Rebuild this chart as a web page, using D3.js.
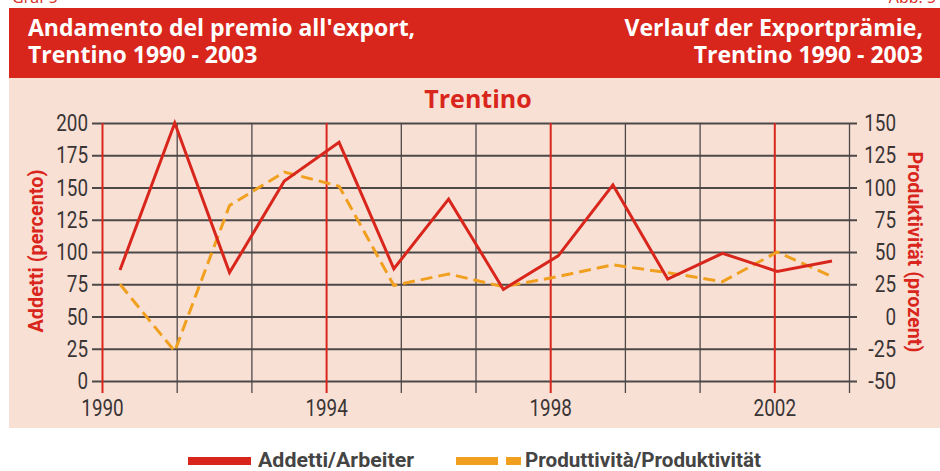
<!DOCTYPE html>
<html>
<head>
<meta charset="utf-8">
<script src="https://cdn.jsdelivr.net/npm/d3@7"></script>
<style>
  body { margin: 0; background: #fff; }
  svg { display: block; }
</style>
</head>
<body>
<script>
// chart data
var years = [1990, 1991, 1992, 1993, 1994, 1995, 1996, 1997, 1998, 1999, 2000, 2001, 2002, 2003];
var addetti = [86, 200, 84, 155, 185, 87, 141, 71, 97, 152, 79, 99, 85, 93];
var produttivita = [25, -27, 86, 112, 101, 24, 33, 23, 31, 40, 34, 27, 50, 31];
var leftTicks = [0, 25, 50, 75, 100, 125, 150, 175, 200];
var rightTicks = [-50, -25, 0, 25, 50, 75, 100, 125, 150];
var yearLabels = [1990, 1994, 1998, 2002];

var width = 940, height = 471;
var red = '#d9261c', orange = '#f0a01e', grid = '#4d4848', pink = '#f9e0d5';
var tickFont = 'Roboto, sans-serif';

// squeeze tick text to a condensed width
function condense(sel) {
    sel.attr('lengthAdjust', 'spacingAndGlyphs')
       .attr('textLength', function() {
           var t = d3.select(this).text();
           var w = 0;
           for (var i = 0; i < t.length; i++) w += t[i] === '-' ? 6.5 : 10.6;
           return w;
       });
}

var svg = d3.select('body').append('svg')
    .attr('width', width)
    .attr('height', height);

// backgrounds
svg.append('rect').attr('x', 9).attr('y', 8).attr('width', width - 9).attr('height', 70).attr('fill', red);
svg.append('rect').attr('x', 9).attr('y', 78).attr('width', width - 9).attr('height', 350).attr('fill', pink);

// cropped page labels at very top
svg.append('text').attr('x', 12).attr('y', 3).attr('fill', red)
    .attr('font-family', 'Open Sans, sans-serif').attr('font-size', 16).text('Graf 5');
svg.append('text').attr('x', 936).attr('y', 3).attr('fill', red).attr('text-anchor', 'end')
    .attr('font-family', 'Open Sans, sans-serif').attr('font-size', 16).text('Abb. 5');

// header text
var head = svg.append('g')
    .attr('fill', '#fff')
    .attr('font-family', 'Open Sans, sans-serif')
    .attr('font-weight', 'bold')
    .attr('font-size', 23);
head.append('text').attr('x', 28).attr('y', 36).text("Andamento del premio all'export,");
head.append('text').attr('x', 28).attr('y', 63).text('Trentino 1990 - 2003');
head.append('text').attr('x', 923).attr('y', 36).attr('text-anchor', 'end').text('Verlauf der Exportprämie,');
head.append('text').attr('x', 923).attr('y', 63).attr('text-anchor', 'end').text('Trentino 1990 - 2003');

svg.append('text')
    .attr('x', 478).attr('y', 108)
    .attr('text-anchor', 'middle')
    .attr('fill', red)
    .attr('font-family', 'Open Sans, sans-serif')
    .attr('font-weight', 'bold')
    .attr('font-size', 25)
    .text('Trentino');

// scales
var plotTop = 123, plotBottom = 381, plotLeft = 102, plotRight = 849;
var yLeft = d3.scaleLinear().domain([0, 200]).range([plotBottom, plotTop]);
var yRight = d3.scaleLinear().domain([-50, 150]).range([plotBottom, plotTop]);
var xAxisScale = d3.scaleLinear().domain([1990, 1990 + 40 / 3]).range([plotLeft, plotRight]);
var xData = d3.scaleLinear().domain([1990, 2003]).range([120, 832]);

// horizontal grid via left axis
var leftAxis = d3.axisLeft(yLeft).tickValues(leftTicks).tickSize(765).tickPadding(4);
var gl = svg.append('g').attr('transform', 'translate(857,0)').call(leftAxis);
gl.select('.domain').remove();
gl.selectAll('line').attr('stroke', grid).attr('stroke-width', 2);
gl.selectAll('text').attr('fill', '#3a3535').attr('font-family', tickFont).attr('font-size', 24).call(condense);

// right axis
var rightAxis = d3.axisRight(yRight).tickValues(rightTicks).tickSize(0)
    .tickFormat(function(d) { return String(d); });
var gr = svg.append('g').attr('transform', 'translate(849,0)').call(rightAxis);
gr.select('.domain').remove();
gr.selectAll('text').attr('fill', '#3a3535').attr('font-family', tickFont).attr('font-size', 24)
    .attr('text-anchor', 'end').attr('x', 47).call(condense);

// vertical grid via bottom axis
var gridVals = d3.range(0, 11).map(function(k) { return 1990 + k * 4 / 3; });
var bottomAxis = d3.axisBottom(xAxisScale).tickValues(gridVals).tickSize(-270).tickPadding(0)
    .tickFormat(function(d, i) { return i % 3 === 0 ? Math.round(d) : ''; });
var gb = svg.append('g').attr('transform', 'translate(0,393)').call(bottomAxis);
gb.select('.domain').remove();
gb.selectAll('.tick line')
    .attr('stroke', function(d, i) { return i % 3 === 0 ? red : grid; })
    .attr('stroke-width', function(d, i) { return i % 3 === 0 ? 2 : 1.3; });
gb.selectAll('.tick').filter(function(d, i) { return i % 3 === 0; }).raise();
gb.selectAll('text').attr('fill', '#3a3535').attr('font-family', tickFont).attr('font-size', 24)
    .attr('dy', null).attr('y', 23)
    .filter(function() { return d3.select(this).text() !== ''; }).call(condense);

// axis titles
svg.append('text')
    .attr('transform', 'translate(43,251) rotate(-90)')
    .attr('text-anchor', 'middle')
    .attr('fill', red)
    .attr('font-family', tickFont)
    .attr('font-weight', 'bold')
    .attr('font-size', 21)
    .attr('textLength', 163).attr('lengthAdjust', 'spacingAndGlyphs')
    .text('Addetti (percento)');
svg.append('text')
    .attr('transform', 'translate(908,252) rotate(90)')
    .attr('text-anchor', 'middle')
    .attr('fill', red)
    .attr('font-family', tickFont)
    .attr('font-weight', 'bold')
    .attr('font-size', 21)
    .attr('textLength', 201).attr('lengthAdjust', 'spacingAndGlyphs')
    .text('Produktivität (prozent)');

// lines
var lineA = d3.line()
    .x(function(d, i) { return xData(years[i]); })
    .y(function(d) { return yLeft(d); });
var lineP = d3.line()
    .x(function(d, i) { return xData(years[i]); })
    .y(function(d) { return yRight(d); });

svg.append('path').datum(produttivita)
    .attr('d', lineP)
    .attr('fill', 'none')
    .attr('stroke', orange)
    .attr('stroke-width', 3)
    .attr('stroke-dasharray', '12,6');

svg.append('path').datum(addetti)
    .attr('d', lineA)
    .attr('fill', 'none')
    .attr('stroke', red)
    .attr('stroke-width', 3)
    .attr('stroke-linejoin', 'miter');

// legend
var lg = svg.append('g');
lg.append('line').attr('x1', 188).attr('x2', 251).attr('y1', 461).attr('y2', 461)
    .attr('stroke', red).attr('stroke-width', 8);
lg.append('text').attr('x', 258).attr('y', 467)
    .attr('fill', '#444').attr('font-family', tickFont).attr('font-weight', 'bold').attr('font-size', 20)
    .attr('textLength', 156).attr('lengthAdjust', 'spacingAndGlyphs')
    .text('Addetti/Arbeiter');
lg.append('line').attr('x1', 456).attr('x2', 521).attr('y1', 461).attr('y2', 461)
    .attr('stroke', orange).attr('stroke-width', 8).attr('stroke-dasharray', '42,8');
lg.append('text').attr('x', 525).attr('y', 467)
    .attr('fill', '#444').attr('font-family', tickFont).attr('font-weight', 'bold').attr('font-size', 20)
    .attr('textLength', 236).attr('lengthAdjust', 'spacingAndGlyphs')
    .text('Produttività/Produktivität');
</script>
</body>
</html>
